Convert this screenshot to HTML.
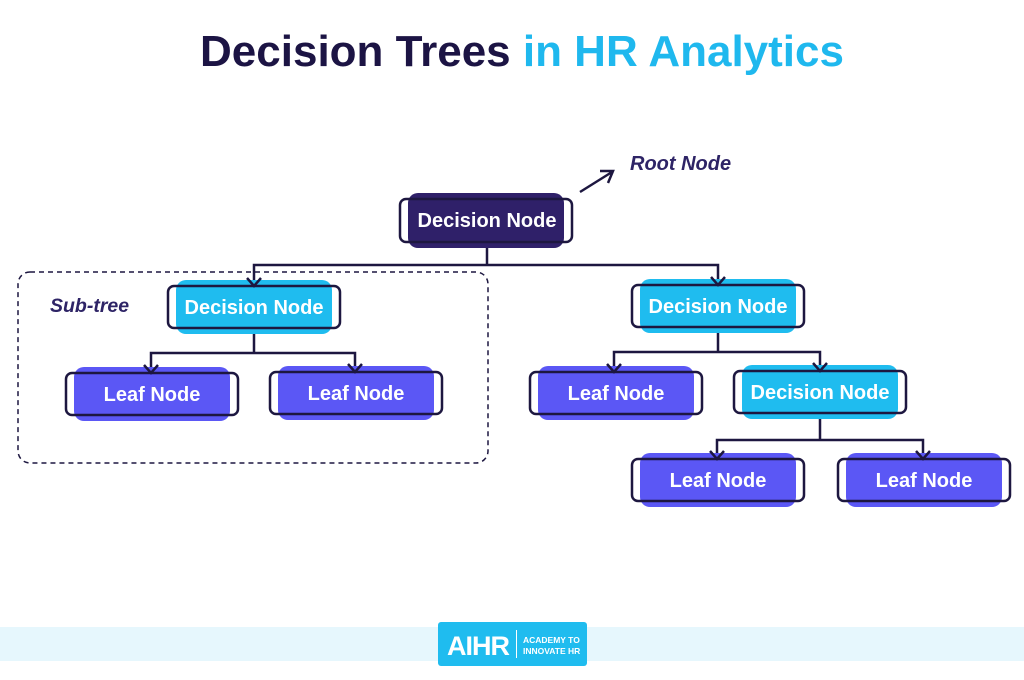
<!DOCTYPE html><html><head><style>body{margin:0;background:#fff}svg{display:block}</style></head><body>
<svg width="1024" height="680" xmlns="http://www.w3.org/2000/svg" font-family="Liberation Sans, sans-serif">
<text x="522" y="66" text-anchor="middle" font-size="44" font-weight="bold" fill="#1c1444">Decision Trees <tspan fill="#1fb8ee">in HR Analytics</tspan></text>
<text x="630" y="170" font-size="20" font-weight="bold" font-style="italic" fill="#2e2466">Root Node</text>
<path d="M580 192 L612 172 M600 171 L613 171 L608 183" stroke="#1d1740" stroke-width="2.5" fill="none"/>
<rect x="18" y="272" width="470" height="191" rx="12" fill="none" stroke="#1d1740" stroke-width="1.5" stroke-dasharray="5,4"/>
<text x="50" y="312" font-size="19.5" font-weight="bold" font-style="italic" fill="#2e2466">Sub-tree</text>
<g stroke="#1d1740" stroke-width="2.5" fill="none">
<path d="M487 242V265M254 285V265H718V284M254 328V353M151 372V353H355V371M718 327V352M614 371V352H820V370M820 413V440M717 458V440H923V458"/>
</g>
<g>
<rect x="408" y="193" width="156" height="55" rx="10" fill="#2f2069"/>
<rect x="176" y="280" width="156" height="54" rx="10" fill="#1fbcef"/>
<rect x="640" y="279" width="156" height="54" rx="10" fill="#1fbcef"/>
<rect x="74" y="367" width="156" height="54" rx="10" fill="#5b57f5"/>
<rect x="278" y="366" width="156" height="54" rx="10" fill="#5b57f5"/>
<rect x="538" y="366" width="156" height="54" rx="10" fill="#5b57f5"/>
<rect x="742" y="365" width="156" height="54" rx="10" fill="#1fbcef"/>
<rect x="640" y="453" width="156" height="54" rx="10" fill="#5b57f5"/>
<rect x="846" y="453" width="156" height="54" rx="10" fill="#5b57f5"/>
</g>
<g fill="none" stroke="#1d1740" stroke-width="2.5">
<rect x="400" y="199" width="172" height="43" rx="6"/>
<rect x="168" y="286" width="172" height="42" rx="6"/>
<rect x="632" y="285" width="172" height="42" rx="6"/>
<rect x="66" y="373" width="172" height="42" rx="6"/>
<rect x="270" y="372" width="172" height="42" rx="6"/>
<rect x="530" y="372" width="172" height="42" rx="6"/>
<rect x="734" y="371" width="172" height="42" rx="6"/>
<rect x="632" y="459" width="172" height="42" rx="6"/>
<rect x="838" y="459" width="172" height="42" rx="6"/>
</g>
<g stroke="#1d1740" stroke-width="2.5" fill="none">
<path d="M247 278L254 286L261 278M711 277L718 285L725 277M144 365L151 373L158 365M348 364L355 372L362 364M607 364L614 372L621 364M813 363L820 371L827 363M710 451L717 459L724 451M916 451L923 459L930 451"/>
</g>
<g fill="#fff" font-size="20" font-weight="bold" text-anchor="middle">
<text x="487" y="227">Decision Node</text>
<text x="254" y="314">Decision Node</text>
<text x="718" y="313">Decision Node</text>
<text x="152" y="401">Leaf Node</text>
<text x="356" y="400">Leaf Node</text>
<text x="616" y="400">Leaf Node</text>
<text x="820" y="399">Decision Node</text>
<text x="718" y="487">Leaf Node</text>
<text x="924" y="487">Leaf Node</text>
</g>
<rect x="0" y="627" width="1024" height="34" fill="#e6f7fd"/>
<rect x="438" y="622" width="149" height="44" rx="3" fill="#1fbcef"/>
<text x="447" y="655" font-size="27" font-weight="bold" fill="#fff" textLength="63">AIHR</text>
<rect x="516" y="630" width="1" height="28" fill="#fff"/>
<text x="523" y="643" font-size="8.5" font-weight="bold" fill="#fff">ACADEMY TO</text>
<text x="523" y="654" font-size="8.5" font-weight="bold" fill="#fff">INNOVATE HR</text>
</svg></body></html>
